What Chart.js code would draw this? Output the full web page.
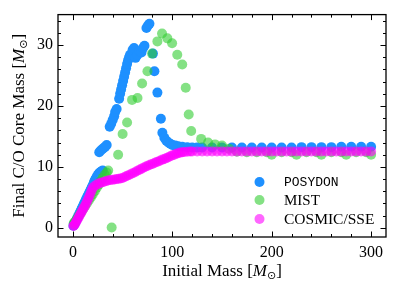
<!DOCTYPE html>
<html>
<head>
<meta charset="utf-8">
<script src="https://cdn.jsdelivr.net/npm/chart.js@4.4.0/dist/chart.umd.min.js"></script>
<style>
  html, body { margin: 0; padding: 0; background: #fff; }
</style>
</head>
<body>
<canvas id="coreChart" width="399" height="296"></canvas>
<script>
// === DATA ===
const seriesLabels = ["POSYDON", "MIST", "COSMIC/SSE"];

const posydonMass = [0.5, 1, 1.5, 2, 3, 4, 5, 6, 7, 8, 9, 10, 11, 12, 13, 14, 15, 16, 17, 18, 19, 20,
  21, 22, 23, 24, 25, 26, 27, 28, 29, 30,
  26.5, 28, 29.5, 31, 32.5, 34,
  37, 38.5, 40, 41.5, 42.5, 44, 46.5, 47.5, 48.5, 49.5, 50.5,
  51.5, 52.5, 53.5, 54.5, 55.5, 56.5, 57.5, 60, 61.5, 63, 65, 67, 69, 70.5, 72,
  74, 75.5, 77, 80.5, 82, 85, 88.5, 90, 92, 94, 96, 98, 100, 103, 106, 110, 115, 120, 125,
  130, 140, 150, 160, 170, 180, 190, 200, 210, 220, 230, 240, 250, 260, 270, 280, 290, 300];
const posydonCore = [0.35, 0.5, 0.65, 0.8, 1.1, 1.45, 1.8, 2.15, 2.5, 2.85, 3.2, 3.55, 3.9, 4.25, 4.6, 4.95, 5.3, 5.6, 5.95, 6.3, 6.65, 7.0,
  7.4, 7.8, 8.1, 8.4, 8.65, 8.9, 9.05, 9.2, 9.3, 9.4,
  12.4, 12.7, 12.9, 13.1, 13.3, 13.6,
  16.6, 17.1, 17.7, 18.3, 19.0, 19.5, 21.2, 22.0, 22.7, 23.4, 24.1,
  24.8, 25.5, 26.2, 26.9, 27.5, 28.0, 28.4, 29.2, 29.5, 27.9, 28.4, 29.0, 28.8, 29.5, 29.9,
  32.8, 33.2, 33.5, 28.6, 25.7, 22.2, 17.9, 15.6, 14.8, 14.3, 14.0, 13.8, 13.6, 13.5, 13.4, 13.3, 13.25, 13.2, 13.2,
  13.2, 13.2, 13.2, 13.2, 13.2, 13.2, 13.2, 13.2, 13.2, 13.2, 13.25, 13.25, 13.25, 13.25, 13.3, 13.3, 13.3, 13.3];

const mistMass = [0.8, 2, 4, 6, 8, 10, 12, 14, 16, 18, 20, 22, 24, 26, 28, 30, 32, 34, 35.5, 39,
  45.5, 50, 54.5, 59.5, 65, 69.6, 75, 79.6, 85, 89.7, 95, 99.8, 105, 110, 113.5, 116.5, 119,
  129, 136, 143, 150, 157, 165, 175, 185, 195, 200, 210, 220, 225, 235, 245, 250, 260, 270, 275, 285, 295, 300];
const mistCore = [0.75, 1.0, 1.5, 2.0, 2.5, 3.0, 3.5, 4.0, 4.5, 5.0, 5.5, 6.0, 6.6, 7.1, 7.7, 8.2, 8.7, 9.1, 9.4, 0.05,
  12.0, 15.4, 17.3, 21.0, 21.3, 23.7, 25.7, 28.6, 30.6, 31.9, 31.1, 30.3, 28.4, 26.8, 23.0, 18.6, 15.9,
  14.6, 14.0, 13.7, 13.5, 13.0, 12.5, 12.4, 12.4, 12.4, 12.0, 12.4, 12.4, 12.0, 12.4, 12.4, 12.0, 12.4, 12.4, 12.0, 12.4, 12.4, 12.0];

const cosmicMass = [0.5, 1, 2, 3, 4, 5, 6, 7, 8, 9, 10, 11, 12, 13, 14, 15, 16, 17, 18, 19, 20,
  22, 24, 26, 28, 30, 32, 34, 36, 38, 40, 42, 44, 46, 48, 50, 52, 54, 56, 58, 60,
  62, 64, 66, 68, 70, 72, 74, 76, 78, 80, 82, 84, 86, 88, 90, 92, 94, 96, 98, 100,
  102, 104, 106, 108, 110, 112, 115, 118, 120, 125, 130, 135, 140, 145, 150, 155, 160, 165,
  170, 175, 180, 185, 190, 195, 200, 205, 210, 215, 220, 225, 230, 235, 240, 245, 250, 255,
  260, 265, 270, 275, 280, 285, 290, 295, 300];
const cosmicCore = [0.3, 0.4, 0.6, 0.9, 1.2, 1.5, 1.8, 2.1, 2.4, 2.7, 3.0, 3.3, 3.6, 3.9, 4.3, 4.6, 5.0, 5.4, 5.8, 6.2, 6.6,
  6.9, 7.1, 7.3, 7.4, 7.5, 7.6, 7.7, 7.8, 7.85, 7.9, 7.95, 8.0, 8.05, 8.1, 8.2, 8.35, 8.5, 8.65, 8.8, 8.95,
  9.1, 9.3, 9.45, 9.6, 9.8, 9.95, 10.1, 10.25, 10.4, 10.5, 10.65, 10.8, 10.9, 11.05, 11.2, 11.3, 11.45, 11.6, 11.75, 11.9,
  12.0, 12.15, 12.25, 12.35, 12.4, 12.45, 12.5, 12.55, 12.55, 12.55, 12.55, 12.55, 12.55, 12.55, 12.55, 12.55, 12.55, 12.55,
  12.55, 12.55, 12.55, 12.55, 12.55, 12.55, 12.55, 12.55, 12.55, 12.55, 12.55, 12.55, 12.55, 12.55, 12.55, 12.55, 12.55, 12.55,
  12.55, 12.55, 12.55, 12.55, 12.55, 12.55, 12.55, 12.55, 12.55];

const xTickValues = [0, 100, 200, 300];
const yTickValues = [0, 10, 20, 30];
const xMinorStep = 20;
const yMinorStep = 2;

const colors = ["rgba(30,144,255,1)", "rgba(50,205,50,0.6)", "rgba(255,0,255,0.6)"];

const serif = "'Liberation Serif', 'DejaVu Serif', serif";

function toPoints(xs, ys) {
  return xs.map((x, i) => ({ x: x, y: ys[i] }));
}

// draws text made of pieces (normal / italic / subscript), centred on cx
function drawRich(ctx, parts, cx, cy) {
  let total = 0;
  parts.forEach(p => { ctx.font = p.font; total += ctx.measureText(p.t).width; });
  let x = cx - total / 2;
  ctx.textBaseline = "middle";
  ctx.textAlign = "left";
  parts.forEach(p => {
    ctx.font = p.font;
    ctx.fillText(p.t, x, cy + (p.dy || 0));
    x += ctx.measureText(p.t).width;
  });
}

// inward ticks on all four sides, box, axis titles and legend
const frameDecor = {
  id: "frameDecor",
  afterDraw(chart) {
    const { ctx, chartArea: a, scales: { x, y } } = chart;
    ctx.save();
    ctx.strokeStyle = "#000";
    ctx.fillStyle = "#000";
    ctx.lineWidth = 1;
    ctx.beginPath();
    for (let v = 0; v <= x.max; v += xMinorStep) {
      const px = Math.round(x.getPixelForValue(v)) + 0.5;
      const len = xTickValues.includes(v) ? 5.5 : 3;
      ctx.moveTo(px, a.bottom); ctx.lineTo(px, a.bottom - len);
      ctx.moveTo(px, a.top); ctx.lineTo(px, a.top + len);
    }
    for (let v = 0; v <= y.max; v += yMinorStep) {
      const py = Math.round(y.getPixelForValue(v)) + 0.5;
      const len = yTickValues.includes(v) ? 5.5 : 3;
      ctx.moveTo(a.left, py); ctx.lineTo(a.left + len, py);
      ctx.moveTo(a.right, py); ctx.lineTo(a.right - len, py);
    }
    ctx.stroke();
    ctx.lineWidth = 1.3;
    ctx.strokeRect(a.left, a.top, a.right - a.left, a.bottom - a.top);

    // axis titles
    const norm = "17px " + serif, ital = "italic 17px " + serif, sub = "11px 'DejaVu Sans', sans-serif";
    drawRich(ctx, [
      { t: "Initial Mass [", font: norm },
      { t: "M", font: ital },
      { t: "\u2299", font: sub, dy: 4 },
      { t: "]", font: norm }
    ], (a.left + a.right) / 2, 272);

    ctx.save();
    ctx.translate(20, (a.top + a.bottom) / 2);
    ctx.rotate(-Math.PI / 2);
    drawRich(ctx, [
      { t: "Final C/O Core Mass [", font: norm },
      { t: "M", font: ital },
      { t: "\u2299", font: sub, dy: 4 },
      { t: "]", font: norm }
    ], 0, 0);
    ctx.restore();

    // legend
    const rows = [a.bottom - 55, a.bottom - 37, a.bottom - 18];
    const fonts = ["13px 'Liberation Mono', 'DejaVu Sans Mono', monospace", "15px " + serif, "15.5px " + serif];
    rows.forEach((ry, i) => {
      ctx.fillStyle = colors[i];
      ctx.beginPath();
      ctx.arc(a.right - 126.5, ry, 5, 0, Math.PI * 2);
      ctx.fill();
      ctx.fillStyle = "#000";
      ctx.font = fonts[i];
      ctx.textAlign = "left";
      ctx.textBaseline = "middle";
      ctx.fillText(seriesLabels[i], a.right - 102, ry + 1);
    });
    ctx.restore();
  }
};

function makeSet(i, xs, ys, order) {
  return {
    label: seriesLabels[i],
    data: toPoints(xs, ys),
    backgroundColor: colors[i],
    borderWidth: 0,
    pointRadius: 5,
    pointHoverRadius: 5,
    order: order
  };
}

const ctx = document.getElementById("coreChart").getContext("2d");
new Chart(ctx, {
  type: "scatter",
  data: {
    datasets: [
      makeSet(0, posydonMass, posydonCore, 3),
      makeSet(1, mistMass, mistCore, 2),
      makeSet(2, cosmicMass, cosmicCore, 1)
    ]
  },
  options: {
    responsive: false,
    animation: false,
    devicePixelRatio: 1,
    layout: { padding: { top: 13, right: 13, left: 0, bottom: 0 } },
    plugins: { legend: { display: false }, tooltip: { enabled: false } },
    scales: {
      x: {
        type: "linear", min: -15, max: 315,
        grid: { display: false, drawTicks: false },
        border: { display: false },
        ticks: { color: "#000", font: { family: serif, size: 16 }, padding: 6, maxRotation: 0, autoSkip: false },
        afterBuildTicks: s => { s.ticks = xTickValues.map(v => ({ value: v })); },
        afterFit: s => { s.height = 59; }
      },
      y: {
        type: "linear", min: -1.5, max: 35,
        grid: { display: false, drawTicks: false },
        border: { display: false },
        ticks: { color: "#000", font: { family: serif, size: 16 }, padding: 5, autoSkip: false },
        afterBuildTicks: s => { s.ticks = yTickValues.map(v => ({ value: v })); },
        afterFit: s => { s.height = s.height; s.width = 58; }
      }
    }
  },
  plugins: [frameDecor]
});
</script>
</body>
</html>
